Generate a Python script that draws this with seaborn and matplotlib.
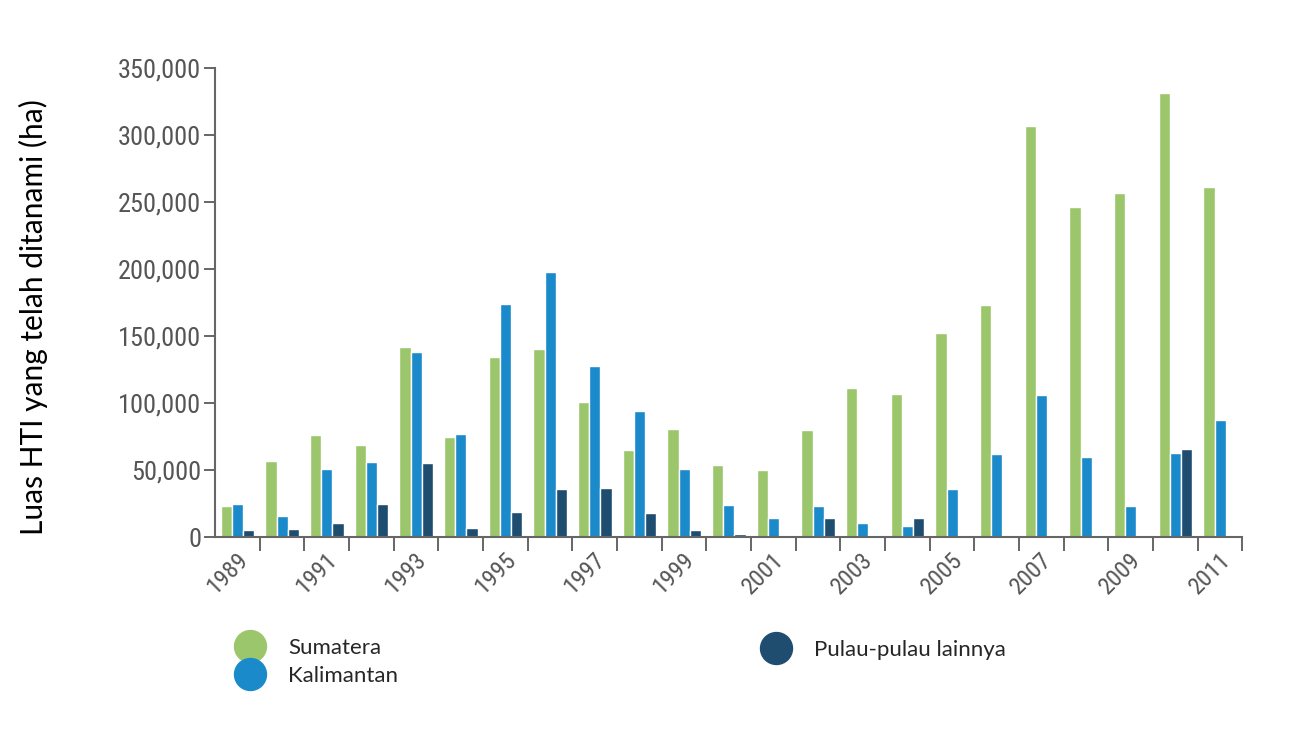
import matplotlib
matplotlib.use("Agg")
import numpy as np
import pandas as pd
import matplotlib.pyplot as plt
import seaborn as sns
from matplotlib.lines import Line2D
from matplotlib.ticker import FuncFormatter
from matplotlib import font_manager

# Data: luas HTI yang telah ditanami per tahun (ha)
tahun = ['1989', '1990', '1991', '1992', '1993', '1994', '1995', '1996', '1997', '1998', '1999', '2000',
         '2001', '2002', '2003', '2004', '2005', '2006', '2007', '2008', '2009', '2010', '2011']
sumatera = [23000, 57000, 76000, 69000, 142000, 75000, 134000, 140000, 101000, 65000, 81000, 54000,
            50000, 80000, 111000, 107000, 152000, 173000, 307000, 246000, 257000, 331000, 261000]
kalimantan = [25000, 16000, 50500, 56000, 138000, 77000, 174000, 198000, 128000, 94000, 51000, 24000,
              14000, 23500, 10500, 8000, 36000, 62000, 106000, 60000, 23000, 63000, 87000]
lainnya = [5500, 6000, 10500, 25000, 55000, 7000, 19000, 36000, 37000, 18000, 5000, 2000,
           0, 14000, 1500, 14000, 0, 0, 0, 0, 0, 66000, 0]

pulau = ['Sumatera', 'Kalimantan', 'Pulau-pulau lainnya']
warna = ['#9cc66b', '#1a8acb', '#1f4d70']

df = pd.DataFrame({
    'Tahun': tahun * 3,
    'Luas': sumatera + kalimantan + lainnya,
    'Pulau': [pulau[0]] * len(tahun) + [pulau[1]] * len(tahun) + [pulau[2]] * len(tahun),
})

# pick a narrow font for the tick labels if one is installed
names = {f.name for f in font_manager.fontManager.ttflist}
narrow = [n for n in ['Liberation Sans Narrow', 'Roboto Condensed', 'DejaVu Sans Condensed',
                      'Open Sans Condensed', 'Noto Sans Condensed'] if n in names]
tick_family = narrow[:1] + ['Roboto', 'DejaVu Sans']

sns.set_style('white')
plt.rcParams['font.family'] = ['Lato', 'DejaVu Sans']

fig = plt.figure(figsize=(13.12, 7.46), dpi=100)
ax = fig.add_axes([0.164, 0.280, 0.783, 0.629])

sns.barplot(data=df, x='Tahun', y='Luas', hue='Pulau', hue_order=pulau,
            palette=dict(zip(pulau, warna)), width=0.75, saturation=1,
            errorbar=None, legend=False, ax=ax)

ax.set_xlim(-0.5, len(tahun) - 0.5)
ax.set_ylim(0, 350000)

# y axis
ax.set_yticks(np.arange(0, 350001, 50000))
ax.yaxis.set_major_formatter(FuncFormatter(lambda v, p: f'{int(v):,}'))
ax.tick_params(axis='y', direction='out', length=8, width=1.4, color='#666666',
               labelcolor='#555555', labelsize=19, pad=2, left=True)

# x axis: labels every other year, small ticks between groups
ax.set_xticks([i + 0.15 for i in range(0, len(tahun), 2)])
ax.set_xticklabels(tahun[::2], rotation=45, ha='right', va='center', rotation_mode='anchor')
ax.set_xticks([i + 0.5 for i in range(len(tahun))], minor=True)
ax.tick_params(axis='x', which='major', length=0, labelcolor='#555555', labelsize=17.5, pad=14)
ax.tick_params(axis='x', which='minor', direction='out', length=10, width=1.4, color='#666666', bottom=True)

for lbl in ax.get_xticklabels() + ax.get_yticklabels():
    lbl.set_family(tick_family)
    lbl.set_stretch('condensed')
if not narrow:
    for lbl in ax.get_yticklabels():
        lbl.set_fontsize(15)
    for lbl in ax.get_xticklabels():
        lbl.set_fontsize(14)

for s in ['top', 'right']:
    ax.spines[s].set_visible(False)
for s in ['left', 'bottom']:
    ax.spines[s].set_color('#666666')
    ax.spines[s].set_linewidth(1.5)

ax.set_xlabel('')
ax.set_ylabel('Luas HTI yang telah ditanami (ha)', fontsize=21.5, color='black')
ax.yaxis.set_label_coords(-0.163, 0.47)

# legend
handles = [Line2D([], [], marker='o', ls='', markersize=23, markerfacecolor=c, markeredgecolor=c)
           for c in warna]
fig.legend(handles[:2], pulau[:2], loc='upper left', bbox_to_anchor=(228 / 1312, 1 - 638 / 746),
           frameon=False, prop={'size': 16}, labelspacing=0.35, handletextpad=0.7,
           borderaxespad=0, borderpad=0)
fig.legend(handles[2:], pulau[2:], loc='upper left', bbox_to_anchor=(754 / 1312, 1 - 640 / 746),
           frameon=False, prop={'size': 16}, handletextpad=0.7, borderaxespad=0, borderpad=0)

fig.savefig('out.png', dpi=100)
